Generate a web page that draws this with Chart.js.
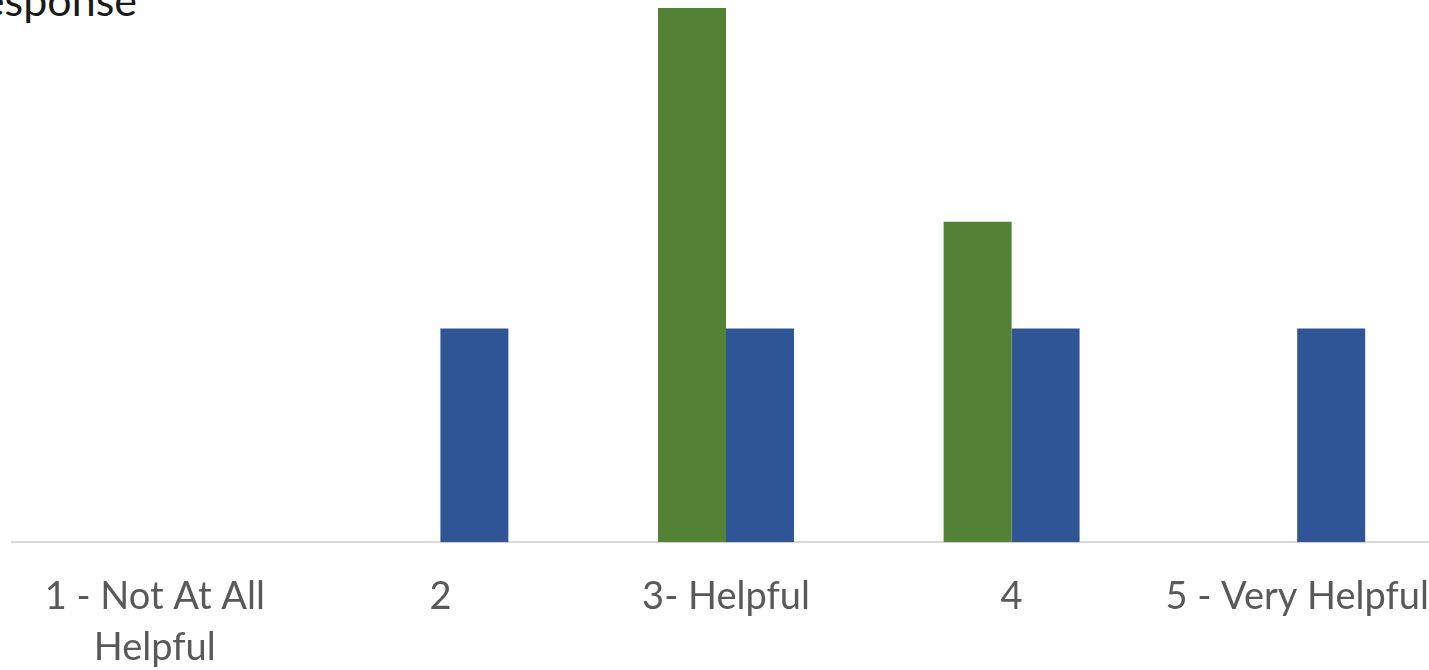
<!DOCTYPE html>
<html>
<head>
<meta charset="utf-8">
<script src="https://cdn.jsdelivr.net/npm/chart.js@4.4.0/dist/chart.umd.min.js"></script>
<style>
    html, body { margin: 0; padding: 0; background: #fff; }
    body { width: 1429px; height: 670px; overflow: hidden; position: relative; }
    #wrap { position: absolute; left: 0; top: 0; width: 1480px; height: 708px; }
    #title {
        position: absolute; right: 1292px; top: -22px;
        font-family: Lato, sans-serif; font-size: 43px; line-height: 43px;
        color: #1a1a1a; white-space: nowrap;
    }
</style>
</head>
<body>
<div id="title">Response</div>
<div id="wrap"><canvas id="chart" width="1480" height="708"></canvas></div>
<script>
const categories = [
    ['1 - Not At All', 'Helpful'],
    '2',
    '3- Helpful',
    '4',
    '5 - Very Helpful'
];
const green_values = [0, 0, 5, 3, 0];
const blue_values = [0, 2, 2, 2, 2];

function bar_chart() {
    const container = document.getElementById('chart');
    const config = {
        type: 'bar',
        data: {
            labels: categories,
            datasets: [{
                label: 'Series 1',
                data: green_values,
                backgroundColor: '#538135',
                barPercentage: 1,
                categoryPercentage: 0.476
            }, {
                label: 'Series 2',
                data: blue_values,
                backgroundColor: '#2f5597',
                barPercentage: 1,
                categoryPercentage: 0.476
            }]
        },
        options: {
            responsive: false,
            animation: false,
            layout: {
                // canvas is wider/taller than the window, the right side is cut off like the reference
                padding: { left: 12, right: 40, top: 8, bottom: 6 }
            },
            plugins: {
                legend: { display: false },
                tooltip: { enabled: false }
            },
            scales: {
                x: {
                    grid: { display: false, drawTicks: false },
                    border: { color: '#d9d9d9', width: 2 },
                    ticks: {
                        color: '#595959',
                        font: { family: 'Lato', size: 38, lineHeight: 1.34 },
                        padding: 29,
                        maxRotation: 0,
                        autoSkip: false
                    }
                },
                y: {
                    display: false,
                    min: 0,
                    max: 5
                }
            }
        }
    };
    return new Chart(container, config);
}

bar_chart();
</script>
</body>
</html>
